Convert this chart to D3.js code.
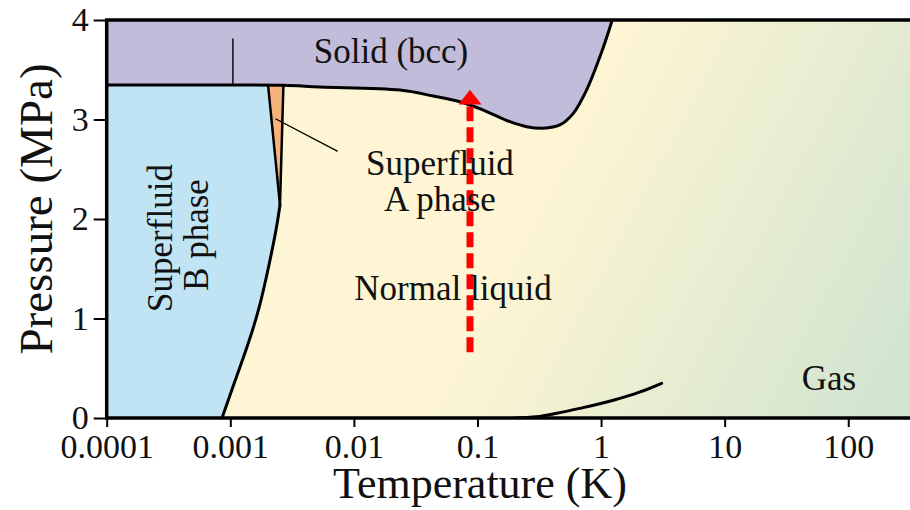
<!DOCTYPE html>
<html>
<head>
<meta charset="utf-8">
<script src="https://cdn.jsdelivr.net/npm/d3@7"></script>
<style>
  html, body { margin: 0; padding: 0; background: #fff; }
  svg { display: block; }
  text { font-family: "Liberation Serif", "Times New Roman", serif; fill: #111; }
</style>
</head>
<body>
<svg id="chart" width="910" height="510"></svg>
<script>
// Helium-3 phase diagram: pressure (MPa) vs temperature (K, log scale)

// Melting curve (liquid / superfluid  ->  bcc solid)
const meltT = [0.0001, 0.001, 0.00269, 0.0053, 0.0236, 0.0438, 0.0721, 0.1114, 0.183, 0.250, 0.340, 0.464, 0.596, 0.763, 0.979, 1.219, 1.23];
const meltP = [3.347, 3.347, 3.343, 3.327, 3.296, 3.236, 3.179, 3.095, 2.978, 2.928, 2.912, 2.945, 3.062, 3.296, 3.631, 3.983, 4.0];

// Superfluid B phase / normal liquid boundary, from the polycritical point down to zero pressure
const bnT = [0.002524, 0.002343, 0.002056, 0.001707, 0.001365, 0.00107, 0.000857];
const bnP = [2.141, 1.889, 1.538, 1.106, 0.714, 0.342, 0.0];

// A–B boundary and A–normal boundary above the polycritical point
const abT = [0.002524, 0.00202];
const abP = [2.141, 3.347];
const anT = [0.002524, 0.00269];
const anP = [2.141, 3.343];

// Liquid–gas vapour pressure curve
const vapT = [0.2, 0.3, 0.438, 0.675, 1.256, 2.07, 3.09];
const vapP = [0.0, 0.012, 0.047, 0.097, 0.178, 0.262, 0.349];

// Magnetic transition inside the solid
const solidLineT = [0.00105, 0.00105];
const solidLineP = [3.347, 3.81];

// Leader line for the A phase label
const leaderT = [0.00234, 0.00734];
const leaderP = [3.005, 2.683];

// Compression path (red arrow)
const arrowT = 0.087;
const arrowP = [0.66, 3.15, 3.30]; // start, arrowhead base, tip

const xTicks = [0.0001, 0.001, 0.01, 0.1, 1, 10, 100];
const xTickLabels = ["0.0001", "0.001", "0.01", "0.1", "1", "10", "100"];
const yTicks = [0, 1, 2, 3, 4];

const svg = d3.select("#chart");
const x = d3.scaleLog().domain([1e-4, 316]).range([106.7, 910]);
const y = d3.scaleLinear().domain([0, 4]).range([418, 20]);

const pts = (ts, ps) => ts.map((t, i) => [x(t), y(ps[i])]);
const lineX = d3.line().curve(d3.curveMonotoneX);
const smooth = d3.line().curve(d3.curveNatural);
const meltLine = d3.line().curve(d3.curveCatmullRom.alpha(0.5));
const straight = d3.line();

// Background gradient for the liquid / gas region
const defs = svg.append("defs");
const grad = defs.append("linearGradient").attr("id", "fluidGrad")
  .attr("gradientUnits", "userSpaceOnUse")
  .attr("x1", 570).attr("y1", 140).attr("x2", 910).attr("y2", 320);
grad.append("stop").attr("offset", 0).attr("stop-color", "#fdf5d3");
grad.append("stop").attr("offset", 1).attr("stop-color", "#d3e5d0");

defs.append("clipPath").attr("id", "plotClip").append("rect")
  .attr("x", x(1e-4)).attr("y", y(4)).attr("width", 910 - x(1e-4) + 5).attr("height", y(0) - y(4));

const plot = svg.append("g").attr("clip-path", "url(#plotClip)");

plot.append("rect")
  .attr("x", x(1e-4)).attr("y", y(4))
  .attr("width", 910 - x(1e-4) + 5).attr("height", y(0) - y(4))
  .attr("fill", "url(#fluidGrad)");

// Superfluid B phase region
const bnPts = pts(bnT, bnP);
const bnD = smooth(bnPts);
const bPath = bnD + "L" + [x(1e-4), y(0)] + "L" + [x(1e-4), y(meltP[0])] +
  "L" + [x(abT[1]), y(abP[1])] + "Z";
plot.append("path").attr("d", bPath).attr("fill", "#c1e4f5");

// Superfluid A phase wedge
plot.append("path")
  .attr("d", straight([[x(abT[0]), y(abP[0])], [x(abT[1]), y(abP[1])], [x(anT[1]), y(anP[1])]]) + "Z")
  .attr("fill", "#f8b27c");

// Solid (bcc) region
const meltPts = pts(meltT, meltP);
const meltD = meltLine(meltPts);
plot.append("path")
  .attr("d", meltD + "L" + [x(1e-4), y(4) - 5] + "Z")
  .attr("fill", "#c1bcd9");

// Phase boundaries
const bound = plot.append("g").attr("fill", "none").attr("stroke", "#000").attr("stroke-linecap", "round");
bound.append("path").attr("d", meltD).attr("stroke-width", 3);
bound.append("path").attr("d", bnD).attr("stroke-width", 3);
bound.append("path").attr("d", straight(pts(abT, abP))).attr("stroke-width", 2.5);
bound.append("path").attr("d", straight(pts(anT, anP))).attr("stroke-width", 2.5);
bound.append("path").attr("d", lineX(pts(vapT, vapP))).attr("stroke-width", 3);
bound.append("path").attr("d", straight(pts(solidLineT, solidLineP))).attr("stroke-width", 1.4);
bound.append("path").attr("d", straight(pts(leaderT, leaderP))).attr("stroke-width", 1.4);

// Red compression arrow
const ax = x(arrowT);
plot.append("line")
  .attr("x1", ax).attr("x2", ax)
  .attr("y1", y(arrowP[0])).attr("y2", y(arrowP[1]) + 2)
  .attr("stroke", "#ff0000").attr("stroke-width", 7)
  .attr("stroke-dasharray", "15,6");
plot.append("path")
  .attr("d", straight([[ax - 11.5, y(arrowP[1])], [ax, y(arrowP[2])], [ax + 11.5, y(arrowP[1])]]) + "Z")
  .attr("fill", "#ff0000");

// Frame
svg.append("path")
  .attr("d", `M915,${y(4)}H${x(1e-4)}V${y(0)}H915`)
  .attr("fill", "none").attr("stroke", "#000").attr("stroke-width", 3.5)
  .attr("stroke-linejoin", "miter");

// Axes
const xAxis = svg.append("g").attr("transform", `translate(0,${y(0)})`)
  .call(d3.axisBottom(x).tickValues(xTicks).tickSize(9)
    .tickFormat((d, i) => xTickLabels[i]));
xAxis.select(".domain").remove();
xAxis.selectAll(".tick line").attr("stroke", "#000").attr("stroke-width", 2);
xAxis.selectAll(".tick text").attr("y", 40).attr("dy", 0)
  .style("font-family", '"Liberation Serif", serif').style("font-size", "34px").attr("fill", "#111");

const yAxis = svg.append("g").attr("transform", `translate(${x(1e-4)},0)`)
  .call(d3.axisLeft(y).tickValues(yTicks).tickSize(13).tickFormat(d3.format("d")));
yAxis.select(".domain").remove();
yAxis.selectAll(".tick line").attr("stroke", "#000").attr("stroke-width", 2);
yAxis.selectAll(".tick text").attr("x", -18).attr("dy", "0.32em")
  .style("font-family", '"Liberation Serif", serif').style("font-size", "34px").attr("fill", "#111");

// Axis titles
svg.append("text").attr("x", 480).attr("y", 498).attr("text-anchor", "middle")
  .style("font-size", "44px").text("Temperature (K)");
svg.append("text").attr("transform", "translate(52,209) rotate(-90)").attr("text-anchor", "middle")
  .style("font-size", "47px").text("Pressure (MPa)");

// Region labels
const lab = svg.append("g").style("font-size", "35px").attr("text-anchor", "middle");
lab.append("text").attr("x", 391).attr("y", 63).text("Solid (bcc)");
lab.append("text").attr("x", 440).attr("y", 175).text("Superfluid");
lab.append("text").attr("x", 440).attr("y", 211).text("A phase");
lab.append("text").attr("x", 453).attr("y", 300).text("Normal liquid");
lab.append("text").attr("x", 829).attr("y", 390).text("Gas");
lab.append("text").attr("transform", "translate(172,238) rotate(-90)").text("Superfluid");
lab.append("text").attr("transform", "translate(208,235) rotate(-90)").text("B phase");
</script>
</body>
</html>
